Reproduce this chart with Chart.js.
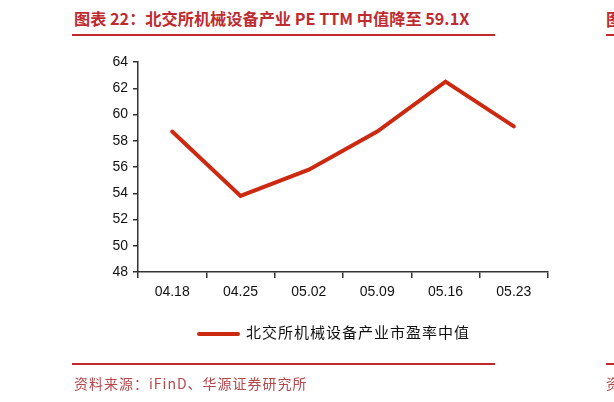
<!DOCTYPE html>
<html lang="zh">

<head>
    <meta charset="UTF-8">
    <title>北交所机械设备产业 PE TTM</title>
    <script src="https://cdn.jsdelivr.net/npm/chart.js"></script>
    <style>
        body {
            margin: 0;
            width: 614px;
            height: 402px;
            overflow: hidden;
            background: #fff;
            position: relative;
            font-family: "Noto Sans CJK SC", sans-serif;
        }

        .title {
            position: absolute;
            left: 74px;
            top: 6px;
            font-size: 16.2px;
            font-weight: bold;
            color: #be2c32;
            white-space: nowrap;
        }

        .rule {
            position: absolute;
            left: 72px;
            width: 423px;
            height: 2px;
            background: #c0282e;
        }

        .source {
            position: absolute;
            left: 74px;
            top: 373px;
            font-size: 14px;
            letter-spacing: 1px;
            color: #b5474a;
            white-space: nowrap;
        }

        .cut {
            position: absolute;
            left: 606px;
            white-space: nowrap;
        }

        .legend {
            position: absolute;
            left: 197px;
            top: 321px;
            font-size: 15px;
            letter-spacing: 1px;
            color: #111;
            white-space: nowrap;
        }

        .legend span.mark {
            display: inline-block;
            width: 43px;
            height: 4px;
            border-radius: 2px;
            background: #cc2a10;
            vertical-align: middle;
            margin-right: 6px;
        }

        #myChart {
            position: absolute;
            left: 0;
            top: 0;
        }
    </style>
</head>

<body>
    <div class="title">图表 22：北交所机械设备产业 PE TTM 中值降至 59.1X</div>
    <div class="rule" style="top:34px"></div>
    <div class="cut" style="top:6px;font-size:17px;font-weight:bold;color:#be2c32">图</div>
    <div class="rule" style="top:34px;left:606px;width:8px"></div>

    <canvas id="myChart" width="614" height="402"></canvas>
    <div class="legend" id="legend"></div>

    <div class="rule" style="top:363px"></div>
    <div class="rule" style="top:363px;left:606px;width:8px"></div>
    <div class="source">资料来源：iFinD、华源证券研究所</div>
    <div class="cut source" style="left:606px">资</div>

    <script>
        // data
        const labels = ['04.18', '04.25', '05.02', '05.09', '05.16', '05.23'];
        const peMedian = [58.7, 53.8, 55.8, 58.7, 62.5, 59.1];
        const seriesName = '北交所机械设备产业市盈率中值';
        const yTicks = [48, 50, 52, 54, 56, 58, 60, 62, 64];

        const axisColor = '#333';
        const lineColor = '#cc2a10';

        // legend (html)
        document.getElementById('legend').innerHTML =
            `<span class="mark"></span>${seriesName}`;

        const ctx = document.getElementById('myChart').getContext('2d');
        const myChart = new Chart(ctx, {
            type: 'line',
            data: {
                labels: labels,
                datasets: [{
                    label: seriesName,
                    data: peMedian,
                    borderColor: lineColor,
                    backgroundColor: lineColor,
                    borderWidth: 4,
                    pointRadius: 0,
                    tension: 0,
                    borderCapStyle: 'round'
                }]
            },
            options: {
                responsive: false,
                animation: false,
                layout: {
                    padding: { left: 78, right: 66, top: 62, bottom: 100 }
                },
                plugins: {
                    legend: { display: false },
                    tooltip: { enabled: false }
                },
                scales: {
                    x: {
                        offset: true,
                        grid: {
                            offset: true,
                            drawOnChartArea: false,
                            tickLength: 6,
                            color: axisColor,
                            lineWidth: 1.5
                        },
                        border: { color: axisColor, width: 1.5 },
                        ticks: {
                            color: '#111',
                            padding: 6,
                            maxRotation: 0,
                            font: { family: 'Liberation Sans, Arial', size: 14 }
                        },
                        afterFit: function (s) { s.height = 30; }
                    },
                    y: {
                        min: yTicks[0],
                        max: yTicks[yTicks.length - 1],
                        afterBuildTicks: function (s) {
                            s.ticks = yTicks.map(v => ({ value: v }));
                        },
                        grid: {
                            drawOnChartArea: false,
                            tickLength: 5,
                            color: axisColor,
                            lineWidth: 1.5
                        },
                        border: { color: axisColor, width: 1.5 },
                        ticks: {
                            color: '#111',
                            padding: 5,
                            font: { family: 'Liberation Sans, Arial', size: 14 }
                        },
                        afterFit: function (s) { s.width = 60; }
                    }
                }
            }
        });
    </script>

</body>

</html>
